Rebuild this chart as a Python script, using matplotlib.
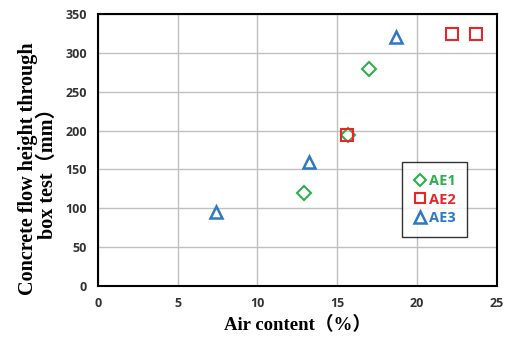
import matplotlib.pyplot as plt

# data
ae1_x = [12.9, 15.7, 17.0]
ae1_y = [120, 195, 280]
ae2_x = [15.6, 22.2, 23.7]
ae2_y = [195, 325, 325]
ae3_x = [7.4, 13.2, 18.7]
ae3_y = [95, 160, 320]
x_ticks = [0, 5, 10, 15, 20, 25]
y_ticks = [0, 50, 100, 150, 200, 250, 300, 350]

serif = ['Liberation Serif', 'Noto Sans CJK JP']
sans = ['Open Sans', 'DejaVu Sans']

fig = plt.figure(figsize=(5.07, 3.45), dpi=100)
ax = fig.add_axes([0.193, 0.171, 0.787, 0.788])

ax.plot(ae1_x, ae1_y, linestyle='none', marker='D', markersize=7, mfc='none',
        mec='#2fae4f', mew=1.5, color='#2fae4f', label='AE1')
ax.plot(ae2_x, ae2_y, linestyle='none', marker='s', markersize=8.5, mfc='none',
        mec='#e8262a', mew=1.5, color='#e8262a', label='AE2')
ax.plot(ae3_x, ae3_y, linestyle='none', marker='^', markersize=9, mfc='none',
        mec='#2e79c0', mew=1.8, color='#2e79c0', label='AE3')

ax.set_xlim(0, 25)
ax.set_ylim(0, 350)
ax.set_xticks(x_ticks)
ax.set_yticks(y_ticks)
ax.grid(True, color='#c0c0c0', linewidth=1)
ax.set_axisbelow(True)
for s in ax.spines.values():
    s.set_linewidth(1.5)
    s.set_color('black')
ax.tick_params(length=0, pad=8, labelsize=9, labelcolor='#333333')
for lab in ax.get_xticklabels() + ax.get_yticklabels():
    lab.set_fontweight('bold')
    lab.set_family(sans)

ax.set_xlabel('Air content（%）', family=serif, fontweight='bold', fontsize=13.5, labelpad=4)
ax.set_ylabel('Concrete flow height through\nbox test（mm）', family=serif,
              fontweight='bold', fontsize=14.5, linespacing=1.0,
              multialignment='center')
ax.yaxis.set_label_coords(-0.10, 0.43)

leg = ax.legend(loc='lower left', bbox_to_anchor=(0.745, 0.155), frameon=True, fancybox=False,
                edgecolor='black', handlelength=0.8, handletextpad=0.2, borderpad=0.8,
                labelspacing=0.3, labelcolor='linecolor', markerscale=0.9,
                prop={'family': sans, 'weight': 'bold', 'size': 10.5})
leg.get_frame().set_linewidth(1.0)

fig.savefig('out.png', dpi=100)
